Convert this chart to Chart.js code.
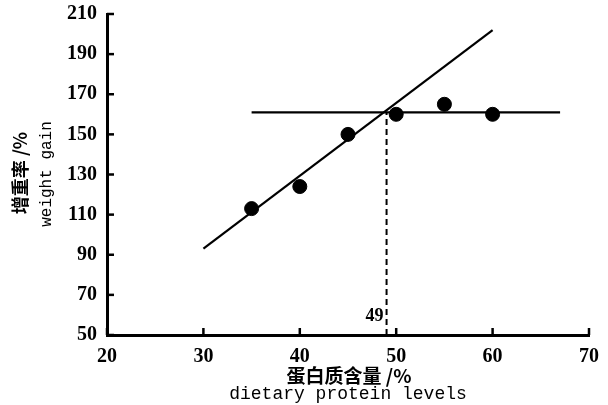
<!DOCTYPE html>
<html>
<head>
<meta charset="utf-8">
<script src="https://cdn.jsdelivr.net/npm/chart.js@4.4.1/dist/chart.umd.min.js"></script>
<style>
  html, body { margin: 0; padding: 0; background: #fff; }
  #wrap { width: 608px; height: 405px; }
</style>
</head>
<body>
<div id="wrap"><canvas id="growthChart" width="608" height="405"></canvas></div>
<script>
// measured points
var proteinLevels = [35, 40, 45, 50, 55, 60];
var weightGain = [113, 124, 150, 160, 165, 160];

// broken-line fit
var slopeX = [30, 60];
var slopeY = [93, 202];
var plateauX = [35, 67];
var plateauY = [161, 161];
var breakPoint = 49;
var breakLabel = '49';

var xTitle = ['蛋白质含量 /%', 'dietary protein levels'];
var yTitle = ['增重率 /%', 'weight gain'];

function toPoints(xs, ys) {
  return xs.map(function (x, i) { return { x: x, y: ys[i] }; });
}

// inward ticks, axis titles and the "49" mark
var extras = {
  id: 'extras',
  afterDatasetsDraw: function (chart) {
    var ctx = chart.ctx;
    var xs = chart.scales.x;
    var ys = chart.scales.y;
    var area = chart.chartArea;
    ctx.save();
    ctx.strokeStyle = '#000';
    ctx.lineWidth = 2.5;
    xs.ticks.forEach(function (t) {
      var px = xs.getPixelForValue(t.value);
      ctx.beginPath();
      ctx.moveTo(px, area.bottom);
      ctx.lineTo(px, area.bottom - 7);
      ctx.stroke();
    });
    ys.ticks.forEach(function (t) {
      var py = ys.getPixelForValue(t.value);
      ctx.beginPath();
      ctx.moveTo(area.left, py);
      ctx.lineTo(area.left + 7, py);
      ctx.stroke();
    });

    ctx.fillStyle = '#000';
    ctx.font = 'bold 18px "Liberation Serif"';
    ctx.textAlign = 'right';
    ctx.textBaseline = 'middle';
    ctx.fillText(breakLabel, xs.getPixelForValue(breakPoint) - 3, area.bottom - 19);

    // x title
    ctx.textAlign = 'center';
    ctx.font = 'bold 19px "Noto Sans CJK SC"';
    ctx.fillText(xTitle[0], 349, 376);
    ctx.font = '18px "Liberation Mono"';
    ctx.fillText(xTitle[1], 348, 394);

    // y title
    ctx.save();
    ctx.translate(20, 173);
    ctx.rotate(-Math.PI / 2);
    ctx.font = 'bold 18px "Noto Sans CJK SC"';
    ctx.fillText(yTitle[0], 0, 0);
    ctx.restore();
    ctx.save();
    ctx.translate(47, 174);
    ctx.rotate(-Math.PI / 2);
    ctx.font = '16px "Liberation Mono"';
    ctx.fillText(yTitle[1], 0, 0);
    ctx.restore();
    ctx.restore();
  }
};

const ctx = document.getElementById('growthChart').getContext('2d');
new Chart(ctx, {
  type: 'scatter',
  data: {
    datasets: [
      {
        data: toPoints(slopeX, slopeY),
        showLine: true,
        borderColor: '#000',
        borderWidth: 2.2,
        pointRadius: 0
      },
      {
        data: toPoints(plateauX, plateauY),
        showLine: true,
        borderColor: '#000',
        borderWidth: 2.2,
        pointRadius: 0
      },
      {
        data: [{ x: breakPoint, y: 50 }, { x: breakPoint, y: plateauY[0] }],
        showLine: true,
        borderColor: '#000',
        borderWidth: 2,
        borderDash: [6, 4],
        pointRadius: 0
      },
      {
        data: toPoints(proteinLevels, weightGain),
        backgroundColor: '#000',
        borderColor: '#000',
        pointRadius: 7,
        pointHoverRadius: 7
      }
    ]
  },
  options: {
    responsive: false,
    animation: false,
    layout: { padding: { top: 6, right: 19 } },
    plugins: { legend: { display: false }, tooltip: { enabled: false } },
    scales: {
      x: {
        type: 'linear',
        min: 20,
        max: 70,
        grid: { display: false },
        border: { display: true, color: '#000', width: 3 },
        ticks: {
          stepSize: 10,
          color: '#000',
          padding: 2,
          maxRotation: 0,
          font: { family: 'Liberation Serif', size: 20, weight: 'bold' }
        },
        afterFit: function (scale) { scale.height = 70; }
      },
      y: {
        min: 50,
        max: 210,
        grid: { display: false },
        border: { display: true, color: '#000', width: 3 },
        ticks: {
          stepSize: 20,
          color: '#000',
          padding: 2,
          font: { family: 'Liberation Serif', size: 20, weight: 'bold' }
        },
        afterFit: function (scale) { scale.width = 107; }
      }
    }
  },
  plugins: [extras]
});
</script>
</body>
</html>
